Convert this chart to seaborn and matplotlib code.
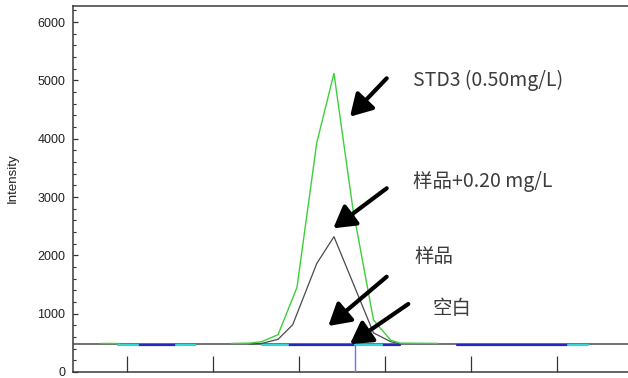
import numpy as np
import pandas as pd
import matplotlib
matplotlib.use("Agg")
import matplotlib.pyplot as plt
from matplotlib.ticker import MultipleLocator, NullFormatter
import seaborn as sns

# ---------------- data ----------------
# STD3 (0.50 mg/L) trace (green)
std3_time = [2.22, 2.43, 2.57, 2.76, 2.98, 3.21, 3.41, 3.63, 3.87, 4.07, 4.18, 4.62]
std3_int = [490, 495, 520, 640, 1450, 3930, 5120, 2800, 890, 545, 495, 490]
std3_pre_time = [0.69, 0.90]
std3_pre_int = [490, 490]

# sample + 0.20 mg/L trace (dark gray)
spike_time = [2.43, 2.57, 2.76, 2.93, 3.21, 3.41, 3.87, 4.07, 4.18]
spike_int = [478, 490, 560, 810, 1860, 2320, 670, 520, 480]

# sample trace segments (cyan) and blank trace segments (blue)
sample_seg_start = [0.90, 1.57, 2.57, 3.65, 6.13]
sample_seg_end = [1.13, 1.80, 2.88, 3.97, 6.36]
sample_level = 458
blank_seg_start = [1.13, 2.88, 3.97, 4.84]
blank_seg_end = [1.57, 3.65, 4.18, 6.13]
blank_level = 456

baseline_level = 474
marker_time = 3.65
marker_int = [0, 460]

y_ticks = [0, 1000, 2000, 3000, 4000, 5000, 6000]
x_ticks = [1, 2, 3, 4, 5, 6]

labels = ["STD3 (0.50mg/L)", "样品+0.20 mg/L", "样品", "空白"]

# ---------------- tables ----------------
def seg_frame(starts, ends, level, name):
    rows = []
    for i, (s, e) in enumerate(zip(starts, ends)):
        rows.append((s, level, name, i))
        rows.append((e, level, name, i))
    return pd.DataFrame(rows, columns=["time", "intensity", "trace", "seg"])

std3_df = pd.concat([
    pd.DataFrame({"time": std3_pre_time, "intensity": std3_pre_int, "trace": "std3", "seg": 0}),
    pd.DataFrame({"time": std3_time, "intensity": std3_int, "trace": "std3", "seg": 1}),
])
spike_df = pd.DataFrame({"time": spike_time, "intensity": spike_int, "trace": "spike", "seg": 0})
sample_df = seg_frame(sample_seg_start, sample_seg_end, sample_level, "sample")
blank_df = seg_frame(blank_seg_start, blank_seg_end, blank_level, "blank")
marker_df = pd.DataFrame({"time": [marker_time, marker_time], "intensity": marker_int})

# ---------------- figure ----------------
sns.set_style("white")
plt.rcParams["font.family"] = ["Liberation Sans", "DejaVu Sans"]

W, H = 628, 378
fig = plt.figure(figsize=(W / 100, H / 100), dpi=100)
ax = fig.add_axes([73 / W, 6 / H, 570 / W, 366 / H])

x_left = 0.3756
x_right = x_left + 570 / 86.0
ax.set_xlim(x_left, x_right)
ax.set_ylim(0, 6275)

# reference baseline across the full width
ax.axhline(baseline_level, color="#5a5a5a", lw=1.2, zorder=1)

sns.lineplot(data=blank_df, x="time", y="intensity", units="seg", estimator=None,
             sort=False, color="#2626c4", lw=1.6, ax=ax, zorder=3)
sns.lineplot(data=sample_df, x="time", y="intensity", units="seg", estimator=None,
             sort=False, color="#35d6d6", lw=1.6, ax=ax, zorder=3)
sns.lineplot(data=spike_df, x="time", y="intensity", units="seg", estimator=None,
             sort=False, color="#4a4a4a", lw=0.9, ax=ax, zorder=4)
sns.lineplot(data=std3_df, x="time", y="intensity", units="seg", estimator=None,
             sort=False, color="#3ccf3c", lw=1.0, ax=ax, zorder=4)
sns.lineplot(data=marker_df, x="time", y="intensity", estimator=None, sort=False,
             color="#6f6fff", lw=1.0, ax=ax, zorder=5)

ax.set_xlabel("")
ax.set_ylabel("Intensity", fontsize=9.5, color="#222222")
ax.yaxis.set_label_coords((19 - 73) / 570, (372 - 178) / 366)

ax.set_xticks(x_ticks)
ax.xaxis.set_major_formatter(NullFormatter())
ax.tick_params(axis="x", which="major", bottom=True, direction="in", length=11.5,
               width=0.9, color="#333333")
ax.set_yticks(y_ticks)
ax.set_yticklabels([str(v) for v in y_ticks])
ax.yaxis.set_minor_locator(MultipleLocator(200))
ax.tick_params(axis="y", which="major", left=True, direction="in", length=3.8, width=0.9,
               color="#333333", labelsize=9, labelcolor="#222222", pad=5.5)
ax.tick_params(axis="y", which="minor", left=True, direction="in", length=1.8, width=0.8,
               color="#333333")

for side in ["left", "bottom", "top"]:
    ax.spines[side].set_color("#3a3a3a")
    ax.spines[side].set_linewidth(1.1)
ax.spines["right"].set_visible(False)

# annotations
cjk = ["Noto Sans CJK SC", "DejaVu Sans"]
label_pos = [(413, 80), (413, 182), (414, 257), (433, 308)]
for txt, (px, py) in zip(labels, label_pos):
    fig.text(px / W, 1 - py / H, txt, family=cjk, fontsize=14, color="#3c3c3c",
             ha="left", va="center")

arrows = [((386.7, 78.3), (350, 116.7)),
          ((386.7, 188.3), (333.3, 228.3)),
          ((386.7, 276.7), (328.3, 326)),
          ((408.3, 304), (350, 344))]
for (tx, ty), (hx, hy) in arrows:
    ax.annotate("", xy=(hx, H - hy), xytext=(tx, H - ty),
                xycoords="figure pixels", textcoords="figure pixels",
                arrowprops=dict(arrowstyle="-|>,head_length=0.65,head_width=0.38",
                                lw=3.0, color="black", mutation_scale=20,
                                shrinkA=0, shrinkB=0), zorder=6)

fig.savefig("out.png", dpi=100)
